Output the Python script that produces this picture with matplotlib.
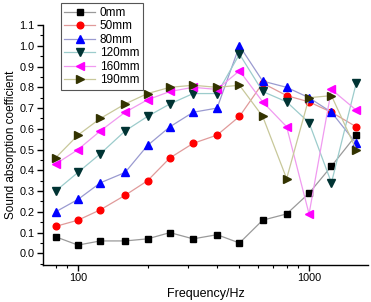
import matplotlib
matplotlib.use("Agg")
import matplotlib.pyplot as plt
from matplotlib.ticker import MultipleLocator, FixedLocator, LogLocator, NullFormatter

plt.rcParams['font.family'] = ['Liberation Sans', 'DejaVu Sans']

freq = [80, 100, 125, 160, 200, 250, 315, 400, 500, 630, 800, 1000, 1250, 1600]
labels = ["0mm", "50mm", "80mm", "120mm", "160mm", "190mm"]
s0 = [0.08, 0.04, 0.06, 0.06, 0.07, 0.10, 0.07, 0.09, 0.05, 0.16, 0.19, 0.29, 0.42, 0.57]
s50 = [0.13, 0.16, 0.21, 0.28, 0.35, 0.46, 0.53, 0.57, 0.66, 0.82, 0.76, 0.73, 0.68, 0.61]
s80 = [0.20, 0.26, 0.34, 0.39, 0.52, 0.61, 0.68, 0.70, 1.00, 0.83, 0.80, 0.75, 0.68, 0.53]
s120 = [0.30, 0.39, 0.48, 0.59, 0.66, 0.72, 0.77, 0.77, 0.96, 0.78, 0.73, 0.63, 0.34, 0.82]
s160 = [0.43, 0.50, 0.59, 0.68, 0.74, 0.78, 0.80, 0.79, 0.88, 0.73, 0.61, 0.19, 0.79, 0.69]
s190 = [0.46, 0.57, 0.65, 0.72, 0.77, 0.80, 0.81, 0.80, 0.81, 0.66, 0.36, 0.75, 0.76, 0.50]
series = [s0, s50, s80, s120, s160, s190]

marker_colors = ["#000000", "#ff0000", "#0000ff", "#003333", "#ff00ff", "#333300"]
line_colors = ["#9a9a9a", "#e09a9a", "#9a9ad0", "#9ccccc", "#f09af0", "#c8c89a"]
markers = ["s", "o", "^", "v", "<", ">"]
msizes = [4.2, 4.8, 5.5, 5.5, 5.5, 5.5]

fig = plt.figure(figsize=(3.71, 3.02), dpi=100)
ax = fig.add_axes([0.116, 0.1225, 0.876, 0.7945])

for vals, lab, mc, lc, mk, ms in zip(series, labels, marker_colors, line_colors, markers, msizes):
    ax.plot(freq, vals, color=lc, lw=0.9, marker=mk, markersize=ms,
            markerfacecolor=mc, markeredgecolor=mc, label=lab)

ax.set_xscale('log')
ax.set_xlim(70.6, 1800)
ax.set_ylim(-0.056, 1.1)

ax.xaxis.set_major_locator(FixedLocator([100, 1000]))
ax.xaxis.set_major_formatter(matplotlib.ticker.FuncFormatter(lambda v, p: "%d" % v))
ax.xaxis.set_minor_locator(LogLocator(base=10, subs=range(2, 10)))
ax.xaxis.set_minor_formatter(NullFormatter())
ax.yaxis.set_major_locator(FixedLocator([round(0.1 * i, 1) for i in range(12)]))
ax.yaxis.set_major_formatter(matplotlib.ticker.FuncFormatter(lambda v, p: "%.1f" % v))
ax.yaxis.set_minor_locator(MultipleLocator(0.05))

for s in ['top', 'right']:
    ax.spines[s].set_visible(False)
for s in ['left', 'bottom']:
    ax.spines[s].set_linewidth(1.0)

ax.tick_params(axis='both', which='major', direction='out', length=4, width=1.0, labelsize=7.8, pad=2)
ax.tick_params(axis='both', which='minor', direction='out', length=2.2, width=0.8)

ax.set_ylabel("Sound absorption coefficient", fontsize=8.5, labelpad=2)
ax.set_xlabel("Frequency/Hz", fontsize=9, labelpad=3)

leg = ax.legend(loc='upper left', bbox_to_anchor=(0.055, 1.09), fontsize=8.5,
                frameon=True, fancybox=False, edgecolor='#555555', framealpha=1,
                handlelength=2.6, handletextpad=0.4, labelspacing=0.12,
                borderpad=0.3, borderaxespad=0)
leg.get_frame().set_linewidth(0.8)

fig.savefig("out.png", dpi=100)
